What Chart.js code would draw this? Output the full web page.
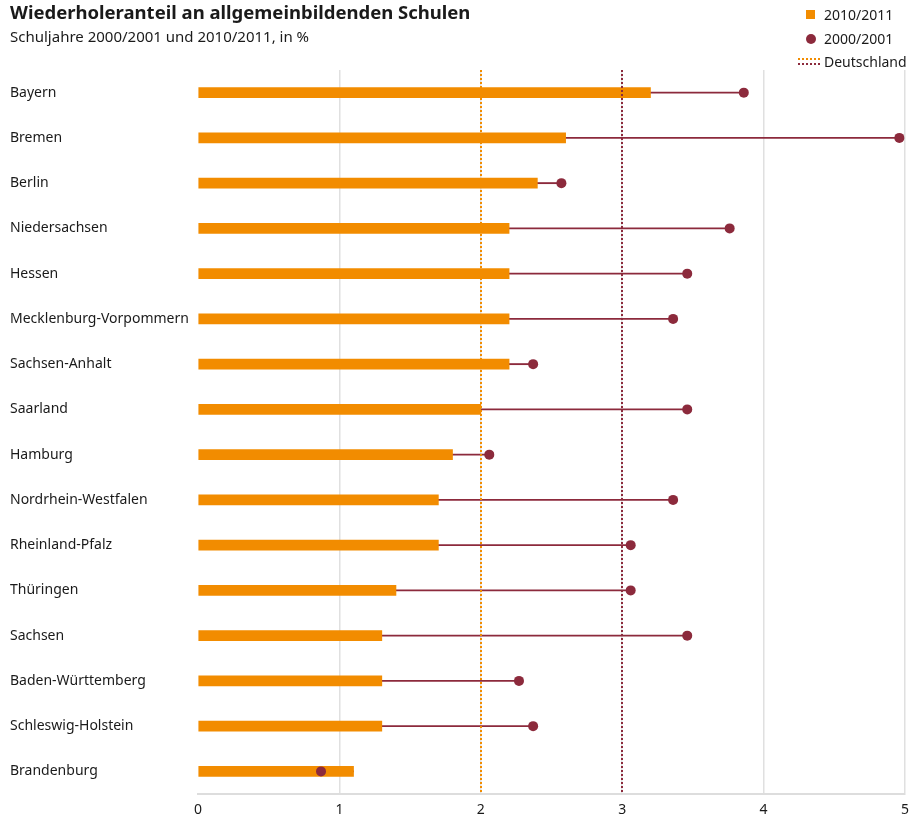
<!DOCTYPE html>
<html><head><meta charset="utf-8">
<script src="https://cdn.jsdelivr.net/npm/chart.js@4/dist/chart.umd.min.js"></script>
<style>
html,body{margin:0;padding:0;background:#fff;}
body{width:910px;height:817px;position:relative;overflow:hidden;font-family:"Noto Sans",sans-serif;color:#1a1a1a;}
#title{position:absolute;left:10px;top:-1px;font-size:18.5px;font-weight:bold;letter-spacing:0px;}
#sub{position:absolute;left:10px;top:26px;font-size:15px;}
#wrap{position:absolute;left:0;top:0;width:910px;height:817px;overflow:hidden;}
.lg{position:absolute;left:798px;font-size:14px;line-height:16px;}
.lg span.t{position:absolute;left:26px;top:0;white-space:nowrap;}
</style></head><body>
<div id="wrap"><canvas id="c" width="910" height="817"></canvas></div>
<div id="title">Wiederholeranteil an allgemeinbildenden Schulen</div>
<div id="sub">Schuljahre 2000/2001 und 2010/2011, in %</div>
<div class="lg" style="top:7px;"><div style="position:absolute;left:8px;top:3px;width:9px;height:9px;background:#F28C00"></div><span class="t">2010/2011</span></div>
<div class="lg" style="top:31px;"><div style="position:absolute;left:8px;top:3px;width:10px;height:10px;border-radius:50%;background:#8C2A3C"></div><span class="t">2000/2001</span></div>
<div class="lg" style="top:54px;"><div style="position:absolute;left:0px;top:4px;width:22px;border-top:2px dotted #F28C00"></div><div style="position:absolute;left:0px;top:9px;width:22px;border-top:2px dotted #8C2A3C"></div><span class="t">Deutschland</span></div>
<script>
const categories = ["Bayern","Bremen","Berlin","Niedersachsen","Hessen","Mecklenburg-Vorpommern","Sachsen-Anhalt","Saarland","Hamburg","Nordrhein-Westfalen","Rheinland-Pfalz","Thüringen","Sachsen","Baden-Württemberg","Schleswig-Holstein","Brandenburg"];
const values2010 = [3.2,2.6,2.4,2.2,2.2,2.2,2.2,2.0,1.8,1.7,1.7,1.4,1.3,1.3,1.3,1.1];
const values2000 = [3.86,4.96,2.57,3.76,3.46,3.36,2.37,3.46,2.06,3.36,3.06,3.06,3.46,2.27,2.37,0.87];
const deutschland2010 = 2.0;
const deutschland2000 = 3.0;
const xTicks = [0,1,2,3,4,5];

const ORANGE = "#F28C00", RED = "#8C2A3C";

const refLines = {
  id: "refLines",
  afterDatasetsDraw(chart) {
    const ctx = chart.ctx, xs = chart.scales.x, a = chart.chartArea;
    [[deutschland2010, ORANGE], [deutschland2000, RED]].forEach(([v, col]) => {
      const px = Math.round(xs.getPixelForValue(v));
      ctx.save();
      ctx.strokeStyle = col; ctx.lineWidth = 2; ctx.setLineDash([2, 2]);
      ctx.beginPath(); ctx.moveTo(px, a.top); ctx.lineTo(px, a.bottom); ctx.stroke();
      ctx.restore();
    });
  }
};

new Chart(document.getElementById("c"), {
  data: {
    labels: categories,
    datasets: [
      { type: "bar", label: "conn", data: categories.map((c, i) => [values2010[i], values2000[i]]),
        backgroundColor: RED, barThickness: 1.2, grouped: false, order: 3 },
      { type: "bar", label: "2010/2011", data: values2010, backgroundColor: ORANGE,
        barThickness: 10, grouped: false, order: 2 },
      { type: "line", label: "2000/2001", indexAxis: "y", showLine: false,
        data: categories.map((c, i) => ({ x: values2000[i], y: c })),
        pointRadius: 5, pointHoverRadius: 5, pointBackgroundColor: RED, pointBorderWidth: 0, borderColor: RED, order: 1 }
    ]
  },
  options: {
    indexAxis: "y",
    responsive: false,
    animation: false,
    layout: { padding: { left: 10, top: 70, right: 0, bottom: 0 } },
    plugins: { legend: { display: false }, tooltip: { enabled: false } },
    scales: {
      x: {
        min: 0, max: 5,
        afterBuildTicks(s) { s.ticks = xTicks.map(v => ({ value: v })); },
        afterFit(s) { s.height = 23; s.paddingRight = 3; s.paddingLeft = 0; },
        grid: { color: c => c.tick && c.tick.value === 0 ? "rgba(0,0,0,0)" : "#e0e0e0", lineWidth: 1.5, drawTicks: false },
        border: { display: true, color: "#dddddd", width: 2 },
        ticks: { color: "#1a1a1a", font: { family: "Noto Sans", size: 14 }, padding: 8, maxRotation: 0 }
      },
      y: {
        grid: { display: false, drawTicks: false },
        border: { display: false },
        afterFit(s) { s.width = 188; s.paddingTop = 0; s.paddingBottom = 0; },
        ticks: { crossAlign: "far", color: "#1a1a1a", font: { family: "Noto Sans", size: 14 }, padding: 0 }
      }
    }
  },
  plugins: [refLines]
});
</script>
</body></html>
